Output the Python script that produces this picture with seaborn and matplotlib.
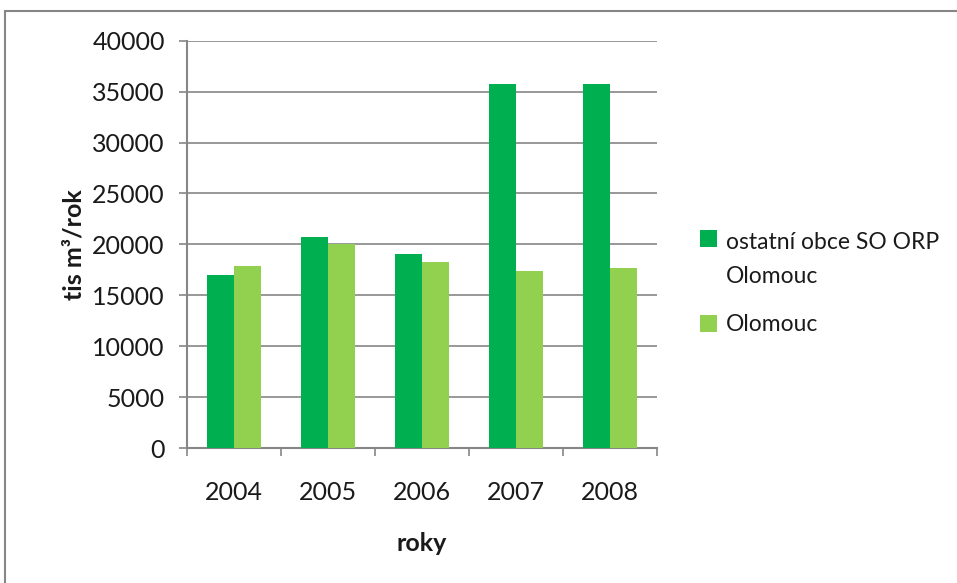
import matplotlib
matplotlib.use("Agg")
import matplotlib.pyplot as plt
from matplotlib.patches import Rectangle
from matplotlib.legend_handler import HandlerPatch
import seaborn as sns
import pandas as pd

years = ["2004", "2005", "2006", "2007", "2008"]
ostatni = [17000, 20750, 19050, 35700, 35700]
olomouc = [17900, 20000, 18270, 17380, 17700]
series_names = ["ostatní obce SO ORP\nOlomouc", "Olomouc"]
colors = ["#00B050", "#92D050"]
y_ticks = [0, 5000, 10000, 15000, 20000, 25000, 30000, 35000, 40000]

df = pd.DataFrame({
    "rok": years * 2,
    "hodnota": ostatni + olomouc,
    "serie": [series_names[0]] * len(years) + [series_names[1]] * len(years),
})

sns.set_theme(style="white")
plt.rcParams["font.family"] = ["Lato", "DejaVu Sans"]

grid_gray = "#868686"
text_color = "#1a1a1a"
fig = plt.figure(figsize=(9.57, 5.83), dpi=100)
ax = fig.add_axes([187 / 957, 1 - 448 / 583, 470 / 957, 407.3 / 583])

# outer chart frame
fig.patches.append(Rectangle((5 / 957, -0.1), 1.1, 1 - 11 / 583 + 0.1,
                             transform=fig.transFigure, fill=False,
                             edgecolor=grid_gray, linewidth=1.5, zorder=0))

sns.barplot(data=df, x="rok", y="hodnota", hue="serie", palette=colors,
            width=0.575, saturation=1, linewidth=0, ax=ax, zorder=3)

ax.set_xlim(-0.5, 4.5)
ax.set_ylim(0, 40000)
ax.set_yticks(y_ticks)
ax.set_yticklabels([str(v) for v in y_ticks], fontsize=18, color=text_color)
ax.yaxis.grid(True, color=grid_gray, linewidth=1.2, zorder=0)
ax.set_axisbelow(True)

# category-boundary ticks on x, labels centred between them
ax.set_xticks([i + 0.5 for i in range(-1, 5)], minor=False)
ax.set_xticklabels([""] * 6)
ax.set_xticks(range(len(years)), minor=True)
ax.set_xticklabels(years, minor=True, fontsize=18, color=text_color)
ax.tick_params(axis="x", which="major", length=6, width=1.2, color=grid_gray, direction="out", bottom=True)
ax.tick_params(axis="x", which="minor", length=0, pad=24)
ax.tick_params(axis="y", length=6, width=1.2, color=grid_gray, direction="out", left=True, pad=10)

for side in ["top", "right"]:
    ax.spines[side].set_visible(False)
for side in ["left", "bottom"]:
    ax.spines[side].set_color(grid_gray)
    ax.spines[side].set_linewidth(1.5)

ax.set_xlabel("roky", fontsize=18, fontweight="bold", labelpad=20, color=text_color)
ax.set_ylabel("tis m³/rok", fontsize=18, fontweight="bold", labelpad=5, color=text_color)


def first_line_square(legend, orig_handle, xdescent, ydescent, width, height, fontsize):
    # lift the square so it sits beside the first line of a two-line label
    return Rectangle((-xdescent, -ydescent + fontsize * 0.95), width, height)


legend_fs = 16.5
handles, labels = ax.get_legend_handles_labels()
leg = ax.legend(handles, labels, loc="upper left", bbox_to_anchor=(700 / 957, 1 - 232 / 583),
                bbox_transform=fig.transFigure, frameon=False, fontsize=legend_fs,
                handlelength=0.75, handleheight=0.75, handletextpad=0.4, labelspacing=1.2,
                borderaxespad=0, borderpad=0,
                handler_map={handles[0]: HandlerPatch(patch_func=first_line_square)})
for t in leg.get_texts():
    t.set_linespacing(1.75)
    t.set_color(text_color)

fig.savefig("out.png", dpi=100)
